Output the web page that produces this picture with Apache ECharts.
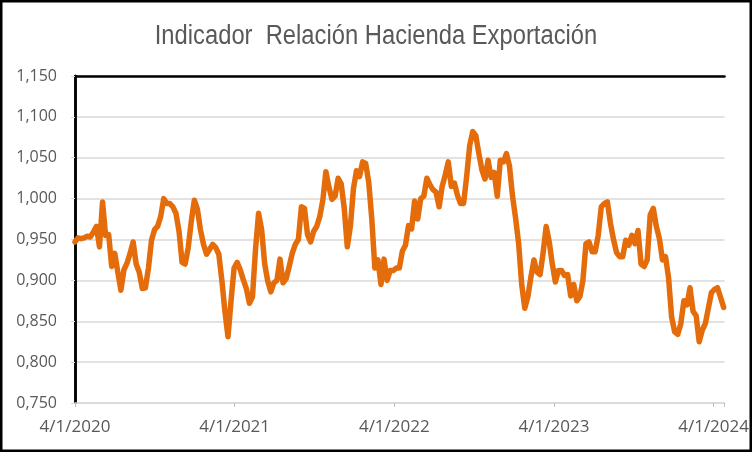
<!DOCTYPE html>
<html>
<head>
<meta charset="utf-8">
<script src="https://cdn.jsdelivr.net/npm/echarts@6/dist/echarts.min.js"></script>
<style>
  html, body { margin: 0; padding: 0; background: #fff; }
  #chart { width: 752px; height: 452px; }
</style>
</head>
<body>
<div id="chart"></div>
<script>
// semanas desde 4/1/2020
var startDate = '2020-01-04';
var xTickLabels = ['4/1/2020', '4/1/2021', '4/1/2022', '4/1/2023', '4/1/2024'];
var yTicks = [0.75, 0.80, 0.85, 0.90, 0.95, 1.00, 1.05, 1.10, 1.15];

// valor semanal del indicador
var values = [
    0.947, 0.952, 0.951, 0.952, 0.954, 0.953, 0.959, 0.966, 0.941, 0.996,
    0.955, 0.956, 0.917, 0.933, 0.910, 0.888, 0.913, 0.921, 0.933, 0.947,
    0.920, 0.910, 0.890, 0.891, 0.915, 0.949, 0.962, 0.966, 0.978, 1.000,
    0.994, 0.994, 0.990, 0.982, 0.960, 0.922, 0.920, 0.940, 0.972, 0.998,
    0.987, 0.962, 0.944, 0.932, 0.938, 0.944, 0.940, 0.932, 0.900, 0.862,
    0.831, 0.875, 0.915, 0.922, 0.913, 0.901, 0.890, 0.872, 0.880, 0.938,
    0.982, 0.962, 0.920, 0.899, 0.886, 0.897, 0.900, 0.926, 0.897, 0.902,
    0.917, 0.933, 0.944, 0.950, 0.990, 0.988, 0.956, 0.947, 0.960, 0.966,
    0.978, 0.998, 1.033, 1.014, 0.999, 1.003, 1.025, 1.018, 0.988, 0.941,
    0.966, 1.012, 1.034, 1.027, 1.045, 1.043, 1.020, 0.975, 0.915, 0.925,
    0.895, 0.926, 0.900, 0.912, 0.912, 0.915, 0.915, 0.936, 0.943, 0.967,
    0.963, 0.997, 0.975, 1.000, 1.003, 1.025, 1.017, 1.011, 1.008, 0.990,
    1.015, 1.029, 1.045, 1.015, 1.019, 1.004, 0.994, 0.994, 1.027, 1.065,
    1.082, 1.077, 1.055, 1.035, 1.024, 1.047, 1.026, 1.032, 1.003, 1.047,
    1.045, 1.055, 1.040, 1.003, 0.976, 0.945, 0.895, 0.866, 0.880, 0.904,
    0.925, 0.910, 0.907, 0.934, 0.966, 0.947, 0.920, 0.898, 0.912, 0.912,
    0.906, 0.907, 0.881, 0.895, 0.875, 0.880, 0.900, 0.945, 0.947, 0.935,
    0.935, 0.955, 0.990, 0.994, 0.996, 0.970, 0.950, 0.934, 0.929, 0.929,
    0.949, 0.943, 0.955, 0.945, 0.961, 0.920, 0.917, 0.925, 0.980, 0.988,
    0.966, 0.951, 0.925, 0.929, 0.903, 0.855, 0.837, 0.834, 0.847, 0.875,
    0.870, 0.891, 0.862, 0.857, 0.825, 0.839, 0.847, 0.866, 0.885, 0.889,
    0.891, 0.879, 0.867
];

var DAYS_PER_YEAR = 365.25;
var X_MAX = 1486;   // el eje termina un poco despues de 4/1/2024

var seriesData = values.map(function (v, i) { return [i * 7, v]; });

var chart = echarts.init(document.getElementById('chart'));

var option = {
    animation: false,
    backgroundColor: '#fff',
    grid: { left: 75, right: 24, top: 76, bottom: 49 },
    graphic: [{
        // titulo en letra angosta (no hay Arial Narrow instalada, se comprime)
        type: 'text',
        silent: true,
        x: 376,
        y: 37,
        scaleX: 0.88,
        style: {
            text: 'Indicador  Relación Hacienda Exportación',
            font: '27px "Liberation Sans", Arial, sans-serif',
            fill: '#595959',
            align: 'center',
            verticalAlign: 'middle'
        }
    }, {
        // borde exterior
        type: 'rect',
        silent: true,
        shape: { x: 1.25, y: 1.25, width: 749.5, height: 449.5 },
        style: { fill: 'none', stroke: '#000', lineWidth: 2.5 },
        z: 100
    }],
    xAxis: [{
        type: 'value',
        position: 'bottom',
        min: 0,
        max: X_MAX,
        interval: DAYS_PER_YEAR,
        axisLine: { show: true, lineStyle: { color: '#d9d9d9', width: 1.5 } },
        axisTick: { show: true, length: 4, lineStyle: { color: '#bfbfbf' } },
        splitLine: { show: false },
        axisLabel: {
            margin: 16,
            fontFamily: '"Open Sans", sans-serif',
            fontSize: 17,
            color: '#595959',
            formatter: function (v) {
                var k = v / DAYS_PER_YEAR;
                var r = Math.round(k);
                if (Math.abs(k - r) < 1e-6 && xTickLabels[r]) return xTickLabels[r];
                return '';
            }
        }
    }, {
        // borde superior del area de trazado
        type: 'value',
        position: 'top',
        min: 0,
        max: X_MAX,
        axisLine: { show: true, lineStyle: { color: '#000', width: 2.5 } },
        axisTick: { show: false },
        axisLabel: { show: false },
        splitLine: { show: false }
    }],
    yAxis: [{
        type: 'value',
        min: yTicks[0],
        max: yTicks[yTicks.length - 1],
        interval: 0.05,
        axisLine: { show: true, lineStyle: { color: '#000', width: 2.5 } },
        axisTick: { show: true, length: 4, lineStyle: { color: '#d9d9d9' } },
        splitLine: { show: true, lineStyle: { color: '#d9d9d9', width: 1.5 } },
        axisLabel: {
            margin: 18,
            fontFamily: '"Open Sans", sans-serif',
            fontSize: 16,
            color: '#595959',
            formatter: function (v) { return v.toFixed(3).replace('.', ','); }
        }
    }, {
        // borde derecho
        type: 'value',
        position: 'right',
        min: yTicks[0],
        max: yTicks[yTicks.length - 1],
        interval: 0.05,
        axisLine: { show: true, lineStyle: { color: '#000', width: 2.5 } },
        axisTick: { show: false },
        axisLabel: { show: false },
        splitLine: { show: false }
    }],
    series: [{
        name: 'Indicador',
        type: 'line',
        xAxisIndex: 0,
        yAxisIndex: 0,
        data: seriesData,
        showSymbol: false,
        smooth: false,
        lineStyle: { color: '#E46C0A', width: 5.5, join: 'round', cap: 'round' },
        z: 3
    }]
};

chart.setOption(option);
</script>
</body>
</html>
